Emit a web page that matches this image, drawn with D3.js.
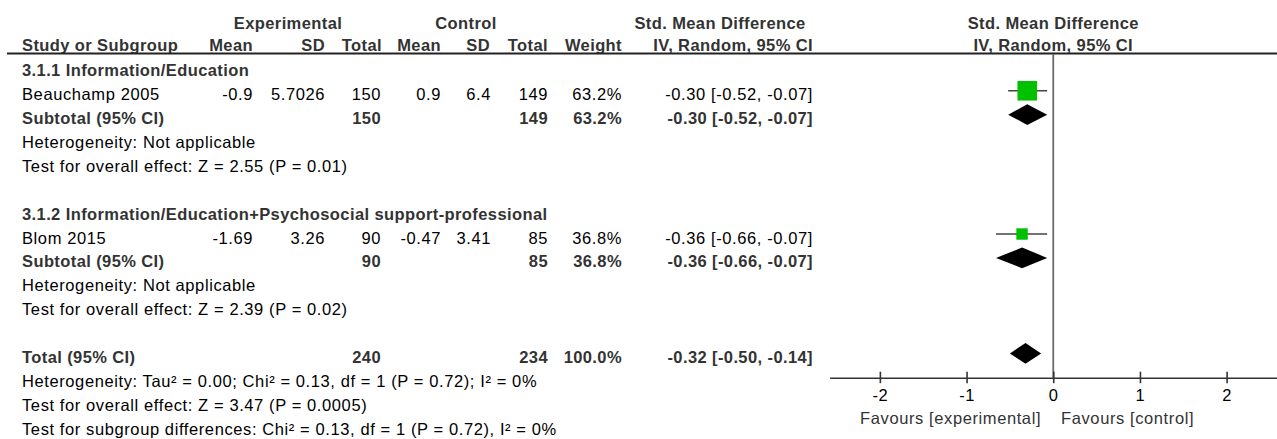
<!DOCTYPE html>
<html>
<head>
<meta charset="utf-8">
<script src="https://cdn.jsdelivr.net/npm/d3@7"></script>
<style>
  body { margin: 0; background: #fff; }
  svg { display: block; font-family: "Liberation Sans", Arial, sans-serif; }
  .reg { font-size: 16.5px; fill: #000; letter-spacing: 0.6px; }
  .bold { font-size: 16.5px; font-weight: bold; fill: #333; letter-spacing: 0.4px; }
  .fav { font-size: 16.5px; fill: #333; letter-spacing: 0.6px; }
</style>
</head>
<body>
<svg id="chart" width="1277" height="439"></svg>
<script>
// ---- study-level data ----
const groupTitles = ["3.1.1 Information/Education", "3.1.2 Information/Education+Psychosocial support-professional"];
const studyNames = ["Beauchamp 2005", "Blom 2015"];
const expMean = [-0.9, -1.69];
const expSD = [5.7026, 3.26];
const expTotal = [150, 90];
const ctlMean = [0.9, -0.47];
const ctlSD = [6.4, 3.41];
const ctlTotal = [149, 85];
const weights = [63.2, 36.8];
const smd = [-0.30, -0.36];
const ciLow = [-0.52, -0.66];
const ciHigh = [-0.07, -0.07];

// ---- subgroup summaries ----
const subExpTotal = [150, 90];
const subCtlTotal = [149, 85];
const subWeight = [63.2, 36.8];
const subSmd = [-0.30, -0.36];
const subLow = [-0.52, -0.66];
const subHigh = [-0.07, -0.07];
const subHet = ["Heterogeneity: Not applicable", "Heterogeneity: Not applicable"];
const subEffect = ["Test for overall effect: Z = 2.55 (P = 0.01)", "Test for overall effect: Z = 2.39 (P = 0.02)"];

// ---- overall summary ----
const totalExp = [240];
const totalCtl = [234];
const totalWeight = [100.0];
const totalSmd = [-0.32];
const totalLow = [-0.50];
const totalHigh = [-0.14];
const totalNotes = [
  "Heterogeneity: Tau² = 0.00; Chi² = 0.13, df = 1 (P = 0.72); I² = 0%",
  "Test for overall effect: Z = 3.47 (P = 0.0005)",
  "Test for subgroup differences: Chi² = 0.13, df = 1 (P = 0.72), I² = 0%"
];

// ---- axis / headers ----
const axisTicks = [-2, -1, 0, 1, 2];
const favoursLabels = ["Favours [experimental]", "Favours [control]"];
const headerTop = ["Experimental", "Control", "Std. Mean Difference"];
const headerCols = ["Study or Subgroup", "Mean", "SD", "Total", "Mean", "SD", "Total", "Weight", "IV, Random, 95% CI"];
const plotHeader = ["Std. Mean Difference", "IV, Random, 95% CI"];

const loc = d3.formatLocale({ decimal: ".", thousands: ",", grouping: [3], currency: ["", ""], minus: "-" });
const f2 = loc.format(".2f");
const f1 = loc.format(".1f");
const ciText = (m, l, h) => `${f2(m)} [${f2(l)}, ${f2(h)}]`;
const pct = w => f1(w) + "%";

const svg = d3.select("#chart");
svg.append("rect").attr("width", 1277).attr("height", 439).attr("fill", "#fff");

// row positions (row centre) and forest-plot scale
const rowY = d3.scaleLinear().domain([0, 15]).range([66.9, 425]);
const x = d3.scaleLinear().domain([-2.58, 2.58]).range([829.6, 1276.9]);
const base = 9.5;   // text baseline below row centre
const sizeScale = d3.scaleLinear().domain([0, 100]).range([0, 31]);

// column anchors for the table
const col = { name: 22, eMean: 253, eSD: 325, eN: 381, cMean: 441, cSD: 491, cN: 548, w: 622, ci: 813 };

// build the table rows
const cells = [];
const studies = [];
const diamonds = [];
let r = 0;
groupTitles.forEach((g, gi) => {
  cells.push({ row: r++, x: col.name, t: g, cls: "bold", a: "start" });
  const sr = r++;
  studies.push({ row: sr, smd: smd[gi], lo: ciLow[gi], hi: ciHigh[gi], w: weights[gi] });
  [[col.name, studyNames[gi], "start"], [col.eMean, String(expMean[gi])], [col.eSD, String(expSD[gi])],
   [col.eN, String(expTotal[gi])], [col.cMean, String(ctlMean[gi])], [col.cSD, String(ctlSD[gi])],
   [col.cN, String(ctlTotal[gi])], [col.w, pct(weights[gi])], [col.ci, ciText(smd[gi], ciLow[gi], ciHigh[gi])]]
    .forEach(([cx, t, a]) => cells.push({ row: sr, x: cx, t, cls: "reg", a: a || "end" }));
  const st = r++;
  diamonds.push({ row: st, smd: subSmd[gi], lo: subLow[gi], hi: subHigh[gi] });
  [[col.name, "Subtotal (95% CI)", "start"], [col.eN, String(subExpTotal[gi])], [col.cN, String(subCtlTotal[gi])],
   [col.w, pct(subWeight[gi])], [col.ci, ciText(subSmd[gi], subLow[gi], subHigh[gi])]]
    .forEach(([cx, t, a]) => cells.push({ row: st, x: cx, t, cls: "bold", a: a || "end" }));
  cells.push({ row: r++, x: col.name, t: subHet[gi], cls: "reg", a: "start" });
  cells.push({ row: r++, x: col.name, t: subEffect[gi], cls: "reg", a: "start" });
  r++; // spacer
});
const tr = r++;
diamonds.push({ row: tr, smd: totalSmd[0], lo: totalLow[0], hi: totalHigh[0] });
[[col.name, "Total (95% CI)", "start"], [col.eN, String(totalExp[0])], [col.cN, String(totalCtl[0])],
 [col.w, pct(totalWeight[0])], [col.ci, ciText(totalSmd[0], totalLow[0], totalHigh[0])]]
  .forEach(([cx, t, a]) => cells.push({ row: tr, x: cx, t, cls: "bold", a: a || "end" }));
totalNotes.forEach(t => cells.push({ row: r++, x: col.name, t, cls: "reg", a: "start" }));

// headers
const hdr = svg.append("g");
const topX = [288, 466, 720];
hdr.selectAll("text.top").data(headerTop).join("text")
  .attr("class", "bold").attr("x", (d, i) => topX[i]).attr("y", 29)
  .attr("text-anchor", "middle").text(d => d);
const hdrX = [col.name, col.eMean, col.eSD, 382, col.cMean, 490, col.cN, col.w, col.ci];
hdr.selectAll("text.col").data(headerCols).join("text")
  .attr("class", "bold").attr("x", (d, i) => hdrX[i]).attr("y", 51)
  .attr("text-anchor", (d, i) => i === 0 ? "start" : "end").text(d => d);
hdr.selectAll("text.plot").data(plotHeader).join("text")
  .attr("class", "bold").attr("x", x(0)).attr("y", (d, i) => 29 + i * 22)
  .attr("text-anchor", "middle").text(d => d);
svg.append("line").attr("x1", 7).attr("x2", 1277).attr("y1", 53.5).attr("y2", 53.5)
  .attr("stroke", "#222").attr("stroke-width", 2);

// table body
svg.append("g").selectAll("text").data(cells).join("text")
  .attr("class", d => d.cls).attr("x", d => d.x).attr("y", d => rowY(d.row) + base)
  .attr("text-anchor", d => d.a).text(d => d.t);

// forest plot: line of no effect
const axisY = 377.7;
svg.append("line").attr("x1", x(0)).attr("x2", x(0)).attr("y1", 54).attr("y2", axisY)
  .attr("stroke", "#6a6a6a").attr("stroke-width", 1.8);

// study CIs and weighted squares
const sg = svg.append("g");
sg.selectAll("line").data(studies).join("line")
  .attr("x1", d => x(d.lo)).attr("x2", d => x(d.hi))
  .attr("y1", d => rowY(d.row)).attr("y2", d => rowY(d.row))
  .attr("stroke", "#444").attr("stroke-width", 1.5);
sg.selectAll("rect").data(studies).join("rect")
  .attr("x", d => x(d.smd) - sizeScale(d.w) / 2).attr("y", d => rowY(d.row) - sizeScale(d.w) / 2)
  .attr("width", d => sizeScale(d.w)).attr("height", d => sizeScale(d.w))
  .attr("fill", "#00c000");

// pooled diamonds
svg.append("g").selectAll("path").data(diamonds).join("path")
  .attr("d", d => {
    const y = rowY(d.row), h = 10.3;
    return `M${x(d.lo)},${y}L${x(d.smd)},${y - h}L${x(d.hi)},${y}L${x(d.smd)},${y + h}Z`;
  })
  .attr("fill", "#000");

// x axis
const ax = svg.append("g").attr("transform", `translate(0,${axisY})`)
  .call(d3.axisBottom(x).tickValues(axisTicks).tickSize(5.5).tickSizeOuter(0).tickPadding(6)
    .tickFormat(loc.format("d")));
ax.select(".domain").attr("stroke", "#333").attr("stroke-width", 1.6);
ax.selectAll(".tick line").attr("y1", -6).attr("y2", 5.5).attr("stroke", "#333").attr("stroke-width", 1.6);
ax.selectAll(".tick text").attr("class", "reg").attr("fill", "#222")
  .style("font-family", "'Liberation Sans', Arial, sans-serif").style("font-size", "16.5px");

// direction labels
svg.append("g").selectAll("text").data(favoursLabels).join("text")
  .attr("class", "fav").attr("y", 424)
  .attr("x", (d, i) => i === 0 ? x(-0.14) : x(0.09))
  .attr("text-anchor", (d, i) => i === 0 ? "end" : "start").text(d => d);
</script>
</body>
</html>
